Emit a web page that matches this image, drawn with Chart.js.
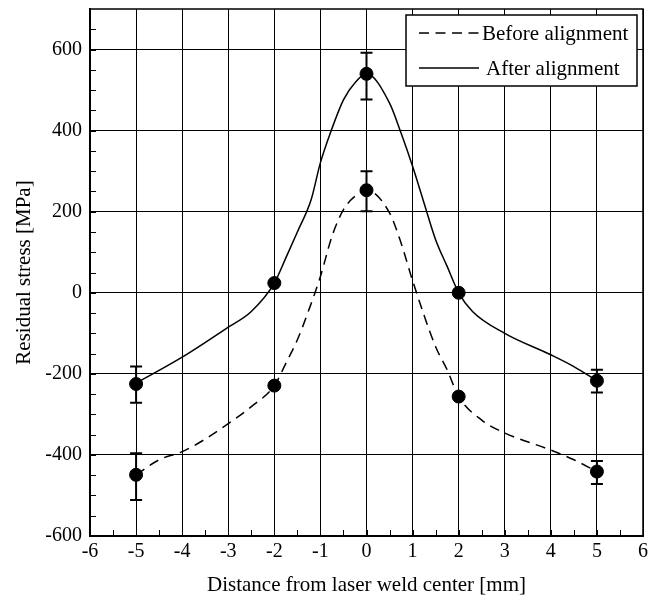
<!DOCTYPE html>
<html>
<head>
<meta charset="utf-8">
<script src="https://cdn.jsdelivr.net/npm/chart.js@4/dist/chart.umd.min.js"></script>
<style>
  body { margin: 0; background: #fff; }
  #wrap { width: 653px; height: 598px; }
</style>
</head>
<body>
<div id="wrap"><canvas id="grafico" width="653" height="598"></canvas></div>
<script>
// measured points
const puntosX = [-5, -2, 0, 2, 5];
const antes = [-449, -229, 253, -256, -441];
const despues = [-225, 24, 540, 0, -217];

// error bar limits (null = no bar)
const antesAlto = [-396, null, 300, null, -415];
const antesBajo = [-511, null, 201, null, -472];
const despuesAlto = [-182, null, 592, null, -190];
const despuesBajo = [-271, null, 477, null, -246];

// fitted curves
const curvaAntesX = [-5, -4.5, -4, -3.5, -3, -2.5, -2, -1.75, -1.5, -1.25, -1, -0.75, -0.5, -0.25, 0, 0.5, 0.75, 1, 1.5, 1.75, 2, 2.5, 3, 4, 4.5, 5];
const curvaAntes = [-449, -412, -392, -361, -323, -281, -229, -174, -116, -42, 40, 139, 205, 238, 253, 197, 123, 30, -133, -190, -256, -314, -346, -388, -412, -441];
const curvaDespuesX = [-5, -4, -3, -2.5, -2, -1.75, -1.5, -1.2, -1, -0.75, -0.5, -0.25, 0, 0.5, 0.75, 1, 1.25, 1.5, 1.75, 2, 2.3, 3, 4, 4.5, 5];
const curvaDespues = [-223, -159, -85, -46, 24, 86, 150, 230, 321, 405, 476, 518, 540, 468, 394, 312, 221, 131, 65, 0, -46, -100, -153, -182, -217];

const etiquetas = ['Before alignment', 'After alignment'];
const tituloX = 'Distance from laser weld center [mm]';
const tituloY = 'Residual stress [MPa]';

const fuente = "'Liberation Serif', 'Times New Roman', serif";

function pares(xs, ys) {
  return xs.map((x, i) => ({ x: x, y: ys[i] }));
}

const pluginErrores = {
  id: 'errores',
  afterDatasetsDraw(chart) {
    const ctx = chart.ctx;
    const ex = chart.scales.x;
    const ey = chart.scales.y;
    chart.data.datasets.forEach(ds => {
      if (!ds.alto) return;
      ctx.save();
      ctx.strokeStyle = '#000';
      ctx.lineWidth = 2;
      ds.data.forEach((p, i) => {
        if (ds.alto[i] === null) return;
        const px = ex.getPixelForValue(p.x);
        const y1 = ey.getPixelForValue(ds.alto[i]);
        const y2 = ey.getPixelForValue(ds.bajo[i]);
        ctx.beginPath();
        ctx.moveTo(px, y1); ctx.lineTo(px, y2);
        ctx.moveTo(px - 6, y1); ctx.lineTo(px + 6, y1);
        ctx.moveTo(px - 6, y2); ctx.lineTo(px + 6, y2);
        ctx.stroke();
      });
      ctx.restore();
    });
  }
};

const pluginMarco = {
  id: 'marco',
  afterDraw(chart) {
    const ctx = chart.ctx;
    const a = chart.chartArea;
    const ex = chart.scales.x;
    const ey = chart.scales.y;
    ctx.save();
    ctx.strokeStyle = '#000';
    // minor ticks
    ctx.lineWidth = 1;
    ctx.beginPath();
    for (let v = -550; v < 700; v += 50) {
      const py = Math.round(ey.getPixelForValue(v)) + 0.5;
      ctx.moveTo(a.left, py); ctx.lineTo(a.left + 6, py);
    }
    for (let v = -5.5; v < 6; v += 0.5) {
      const px = Math.round(ex.getPixelForValue(v)) + 0.5;
      ctx.moveTo(px, a.bottom); ctx.lineTo(px, a.bottom - 6);
    }
    ctx.stroke();
    // top and right border
    ctx.lineWidth = 1.5;
    ctx.beginPath();
    ctx.moveTo(a.left, a.top); ctx.lineTo(a.right, a.top); ctx.lineTo(a.right, a.bottom);
    ctx.stroke();

    // legend
    const lx = 406, ly = 15, lw = 231, lh = 71;
    ctx.fillStyle = '#fff';
    ctx.fillRect(lx, ly, lw, lh);
    ctx.lineWidth = 1.5;
    ctx.strokeRect(lx, ly, lw, lh);
    ctx.font = '21px ' + fuente;
    ctx.fillStyle = '#000';
    ctx.textBaseline = 'middle';
    const filas = [
      { y: 33, dash: [10, 6.5], texto: chart.data.datasets[0].label, tx: 482 },
      { y: 68, dash: [], texto: chart.data.datasets[1].label, tx: 486 }
    ];
    filas.forEach(f => {
      ctx.beginPath();
      ctx.lineWidth = 1.5;
      ctx.setLineDash(f.dash);
      ctx.moveTo(419, f.y); ctx.lineTo(479, f.y);
      ctx.stroke();
      ctx.setLineDash([]);
      ctx.fillText(f.texto, f.tx, f.y + 1);
    });
    ctx.restore();
  }
};

const ctx = document.getElementById('grafico').getContext('2d');
const grafico = new Chart(ctx, {
  type: 'scatter',
  data: {
    datasets: [
      {
        label: etiquetas[0],
        data: pares(curvaAntesX, curvaAntes),
        showLine: true,
        borderColor: '#000',
        borderWidth: 1.5,
        borderDash: [10, 6.5],
        pointRadius: 0,
        cubicInterpolationMode: 'monotone'
      },
      {
        label: etiquetas[1],
        data: pares(curvaDespuesX, curvaDespues),
        showLine: true,
        borderColor: '#000',
        borderWidth: 1.5,
        pointRadius: 0,
        cubicInterpolationMode: 'monotone'
      },
      {
        label: etiquetas[0] + ' (measured)',
        data: pares(puntosX, antes),
        alto: antesAlto,
        bajo: antesBajo,
        pointRadius: 6.5,
        pointBackgroundColor: '#000',
        pointBorderColor: '#000',
        showLine: false
      },
      {
        label: etiquetas[1] + ' (measured)',
        data: pares(puntosX, despues),
        alto: despuesAlto,
        bajo: despuesBajo,
        pointRadius: 6.5,
        pointBackgroundColor: '#000',
        pointBorderColor: '#000',
        showLine: false
      }
    ]
  },
  options: {
    responsive: false,
    animation: false,
    devicePixelRatio: 1,
    layout: { padding: { top: 9, right: 10, left: 0, bottom: 0 } },
    plugins: {
      legend: { display: false },
      tooltip: { enabled: false }
    },
    scales: {
      x: {
        type: 'linear',
        min: -6,
        max: 6,
        afterFit: s => { s.height = 62; s.paddingLeft = 0; s.paddingRight = 0; },
        ticks: { stepSize: 1, color: '#000', font: { family: fuente, size: 20 }, padding: 4, maxRotation: 0 },
        grid: { color: '#000', lineWidth: 1, drawTicks: false },
        border: { color: '#000', width: 2 },
        title: { display: true, text: tituloX, color: '#000', font: { family: fuente, size: 21 }, padding: { top: 8, bottom: 0 } }
      },
      y: {
        type: 'linear',
        min: -600,
        max: 700,
        afterFit: s => { s.width = 90; s.paddingTop = 0; s.paddingBottom = 0; },
        ticks: { stepSize: 200, includeBounds: false, color: '#000', font: { family: fuente, size: 20 }, padding: 8 },
        grid: { color: '#000', lineWidth: 1, drawTicks: false },
        border: { color: '#000', width: 2 },
        title: { display: true, text: tituloY, color: '#000', font: { family: fuente, size: 21 }, padding: { top: 12, bottom: 4 } }
      }
    }
  },
  plugins: [pluginErrores, pluginMarco]
});
</script>
</body>
</html>
